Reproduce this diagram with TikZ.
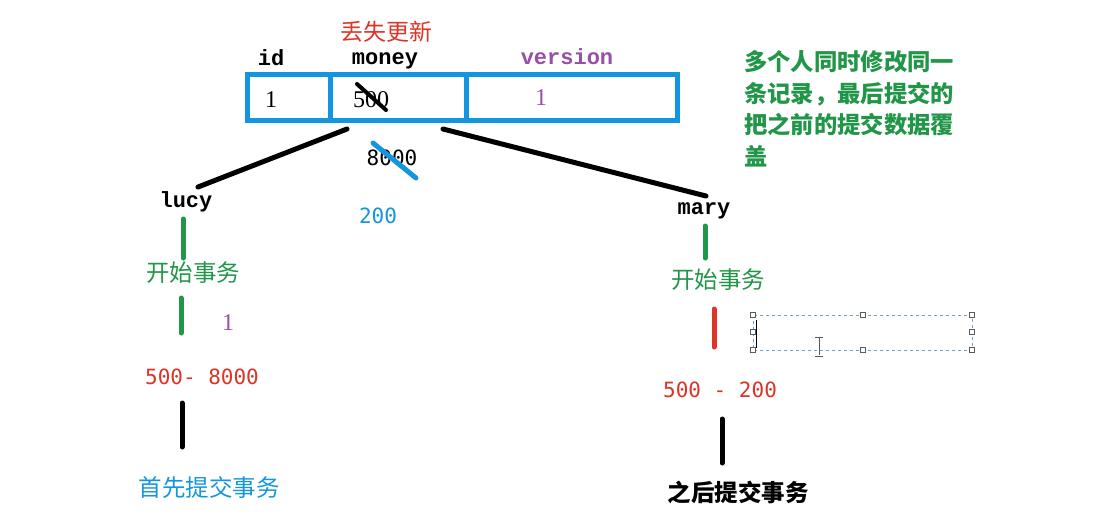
\documentclass[tikz,border=0pt]{standalone}
\usepackage{fontspec}
\setmainfont{Liberation Serif}
\newfontfamily\cjk{Noto Sans CJK SC}
\newfontfamily\monof{Liberation Mono}
\newfontfamily\numf{DejaVu Sans Mono}
\definecolor{tblue}{RGB}{20,150,222}
\definecolor{tgreen}{RGB}{34,150,72}
\definecolor{tred}{RGB}{222,52,40}
\definecolor{tpurple}{RGB}{150,80,165}
\definecolor{hgrey}{RGB}{90,90,90}
\definecolor{dashblue}{RGB}{110,160,200}
\tikzset{
  txt/.style={inner sep=0pt, anchor=center},
  cjkt/.style={txt, font=\cjk\fontsize{23.5}{28}\selectfont},
  mono/.style={txt, font=\monof\bfseries\fontsize{22}{26}\selectfont},
  numt/.style={txt, font=\numf\fontsize{21}{25}\selectfont},
  sert/.style={txt, font=\fontsize{24}{28}\selectfont},
  stroke/.style={line width=5pt, line cap=round},
  handle/.style={draw=hgrey, fill=white, line width=0.8pt, minimum size=5pt, inner sep=0pt},
}
\begin{document}
\begin{tikzpicture}[x=1pt,y=-1pt]
\useasboundingbox[fill=white] (0,0) rectangle (1113,517);
% title
\node[cjkt, text=tred, font=\cjk\fontsize{23}{28}\selectfont] (title) at (386,32) {丢失更新};
% headers
\node[mono] (hid) at (271,58) {id};
\node[mono] (hmoney) at (385,61) {money};
\node[mono, text=tpurple] (hver) at (567,57) {version};
% table
\draw[tblue, line width=5pt] (247,74) rectangle (677,120);
\draw[tblue, line width=5pt] (330,74) -- (330,120);
\draw[tblue, line width=5pt] (466,74) -- (466,120);
\node[sert] (cid) at (271,100) {1};
\node[sert] (cmoney) at (371,100) {500};
\node[sert, text=tpurple] (cver) at (541,98) {1};
\draw[line width=4pt, line cap=round] (357,84) -- (386,110);
% green note
\node[txt, text=tgreen, anchor=north west, align=left, font=\cjk\bfseries\fontsize{23.3}{31.8}\selectfont] (note) at (744,50)
  {多个人同时修改同一\\条记录，最后提交的\\把之前的提交数据覆\\盖};
% branch lines
\coordinate (tl) at (347,129);
\coordinate (tr) at (443,129);
\coordinate (lucyend) at (198,187);
\coordinate (maryend) at (706,196);
\draw[stroke] (tl) -- (lucyend);
\draw[stroke] (tr) -- (maryend);
% middle values
\node[numt] (v8000) at (392,158) {8000};
\draw[tblue, line width=5pt, line cap=round] (373,143) -- (416,178);
\node[numt, text=tblue] (v200) at (378,216) {200};
% lucy branch
\node[mono] (lucy) at (186,202) {lucy};
\coordinate (l1a) at (183,219);
\coordinate (l1b) at (183,258);
\draw[stroke, tgreen] (l1a) -- (l1b);
\node[cjkt, text=tgreen] (lstart) at (193,273) {开始事务};
\draw[stroke, tgreen] (181,298) -- (181,333);
\node[sert, text=tpurple] (lone) at (228,323) {1};
\node[numt, text=tred] (lcalc) at (202,377) {500- 8000};
\draw[stroke] (182,403) -- (182,447);
\node[cjkt, text=tblue] (lcommit) at (209,488) {首先提交事务};
% mary branch
\node[mono] (mary) at (704,211) {mary};
\draw[stroke, tgreen] (705,226) -- (705,258);
\node[cjkt, text=tgreen] (mstart) at (718,280) {开始事务};
\draw[stroke, tred] (714,309) -- (714,347);
\node[numt, text=tred] (mcalc) at (720,390) {500 - 200};
\draw[stroke] (722,419) -- (722,463);
\node[cjkt, font=\cjk\bfseries\fontsize{23.5}{28}\selectfont] (mcommit) at (738,492) {之后提交事务};
% dashed selection box
\draw[dashblue, dashed, line width=0.8pt] (753,315) rectangle (972,350);
\foreach \p in {(753,315),(863,315),(972,315),(753,332),(972,332),(753,350),(863,350),(972,350)}
  \node[handle] at \p {};
\draw[line width=0.9pt] (756,320) -- (756,348);
% I-beam cursor
\draw[hgrey, line width=1pt] (819,338) -- (819,355) (815,337) -- (823,337) (815,356) -- (823,356);
\end{tikzpicture}
\end{document}
